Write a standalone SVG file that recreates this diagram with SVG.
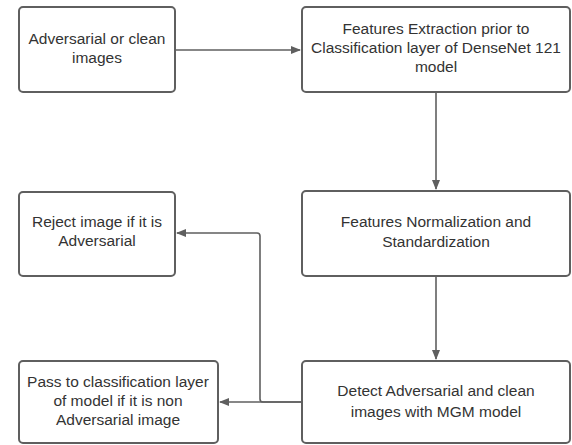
<svg xmlns="http://www.w3.org/2000/svg" width="572" height="445" viewBox="0 0 572 445">
<style>
.box{fill:#fff;stroke:#5f5f5f;stroke-width:2;}
.t{font-family:"Liberation Sans",Arial,sans-serif;font-size:15.5px;fill:#333;text-anchor:middle;}
.c{fill:none;stroke:#5f5f5f;stroke-width:1.6;}
</style>
<defs>
<marker id="ah" markerWidth="10" markerHeight="8" refX="9" refY="4" orient="auto" markerUnits="userSpaceOnUse">
<path d="M0,0 L10,4 L0,8 Z" fill="#5f5f5f"/>
</marker>
</defs>
<rect width="572" height="445" fill="#fff"/>
<g id="connectors">
<path class="c" d="M175,50 H300" marker-end="url(#ah)"/>
<path class="c" d="M436,92 V189" marker-end="url(#ah)"/>
<path class="c" d="M436,276 V359" marker-end="url(#ah)"/>
<path class="c" d="M302,402 H263 Q260,402 260,399 V236 Q260,233 257,233 H177" marker-end="url(#ah)"/>
<path class="c" d="M302,402 H220" marker-end="url(#ah)"/>
</g>
<g id="n1">
<rect class="box" x="19" y="7" width="156" height="85" rx="4"/>
<text class="t" x="97" y="44">Adversarial or clean</text>
<text class="t" x="97" y="63">images</text>
</g>
<g id="n2">
<rect class="box" x="302" y="7" width="268" height="85" rx="4"/>
<text class="t" x="436" y="34">Features Extraction prior to</text>
<text class="t" x="436" y="53">Classification layer of DenseNet 121</text>
<text class="t" x="436" y="72">model</text>
</g>
<g id="n3">
<rect class="box" x="302" y="191" width="268" height="85" rx="4"/>
<text class="t" x="436" y="227">Features Normalization and</text>
<text class="t" x="436" y="247">Standardization</text>
</g>
<g id="n4">
<rect class="box" x="19" y="192" width="156" height="84" rx="4"/>
<text class="t" x="97" y="227">Reject image if it is</text>
<text class="t" x="97" y="246">Adversarial</text>
</g>
<g id="n5">
<rect class="box" x="302" y="361" width="268" height="82" rx="4"/>
<text class="t" x="436" y="396">Detect Adversarial and clean</text>
<text class="t" x="436" y="417">images with MGM model</text>
</g>
<g id="n6">
<rect class="box" x="19" y="361" width="199" height="82" rx="4"/>
<text class="t" x="118" y="387">Pass to classification layer</text>
<text class="t" x="118" y="406">of model if it is non</text>
<text class="t" x="118" y="425">Adversarial image</text>
</g>
</svg>
